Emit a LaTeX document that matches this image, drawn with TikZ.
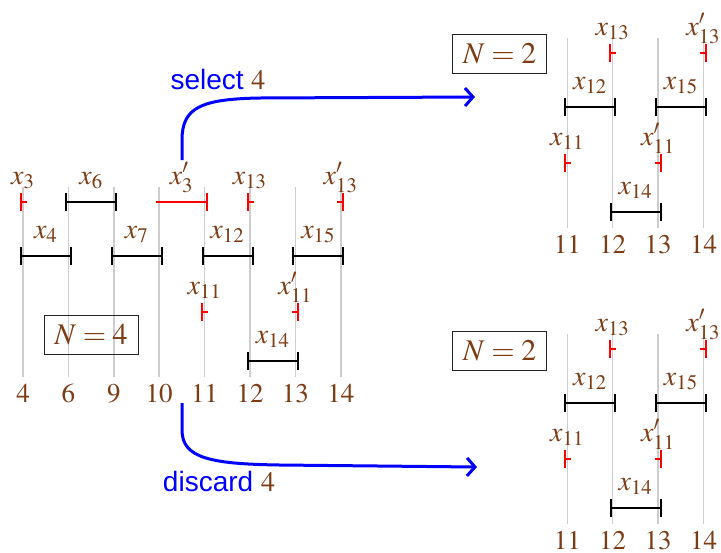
\documentclass[tikz,border=0pt]{standalone}
\usepackage{fontspec}
\usepackage{mathptmx}
\usetikzlibrary{arrows.meta}
\newfontfamily\sansf{Liberation Sans}
\definecolor{brn}{RGB}{125,60,20}
\definecolor{gridgray}{RGB}{205,205,205}
\tikzset{
  gridl/.style={draw=gridgray, line width=0.75pt},
  ival/.style={draw=black, line width=1pt, {Bar[width=9pt]}-{Bar[width=9pt]}},
  ltick/.style={draw=red, line width=1pt, {Bar[width=9pt]}-},
  rtick/.style={draw=red, line width=1pt, -{Bar[width=9pt]}},
  lab/.style={anchor=base, text=brn, font=\fontsize{14}{16}\selectfont, inner sep=0pt},
  num/.style={anchor=base, text=brn, font=\fontsize{13.5}{16}\selectfont, inner sep=0pt},
  nbox/.style={draw=black!85, line width=0.5pt, text=brn, minimum width=47pt, minimum height=19.5pt, inner sep=0pt, font=\fontsize{15}{17}\selectfont},
  flow/.style={draw=blue, line width=1.5pt, -{Straight Barb[length=4pt,width=9pt]}},
  act/.style={text=blue, font=\sansf\fontsize{14}{16}\selectfont, inner sep=0pt}
}
\newcommand\myival[5]{%
  \draw[ival] (#2-3,#4) -- (#3+3.5,#4);
  \node[lab] (#1) at ({(#2+#3)/2+0.25},#4-18) {$#5$};}
\newcommand\mylt[4]{%
  \draw[ltick] (#2-3.5,#3) -- (#2+3.5,#3);
  \node[lab] (#1) at (#2,#3-18) {$#4$};}
\newcommand\myrt[4]{%
  \draw[rtick] (#2-3.5,#3) -- (#2+3.5,#3);
  \node[lab] (#1) at (#2,#3-18) {$#4$};}
\newcommand\gridcol[3]{%
  \draw[gridl] (#2,187) -- (#2,377);
  \node[num] (#1-n#3) at (#2,402) {$#3$};}
\newcommand\rightpart[1]{%
  \gridcol{#1}{204.6}{11}\gridcol{#1}{250}{12}\gridcol{#1}{295.4}{13}\gridcol{#1}{340.8}{14}
  \mylt{#1-x13}{250}{202}{x_{13}}
  \myrt{#1-x13p}{340.8}{202}{x'_{13}}
  \myival{#1-x12}{204.6}{250}{256}{x_{12}}
  \myival{#1-x15}{295.4}{340.8}{256}{x_{15}}
  \mylt{#1-x11}{204.6}{312}{x_{11}}
  \myrt{#1-x11p}{295.4}{312}{x'_{11}}
  \myival{#1-x14}{250}{295.4}{361}{x_{14}}}
\begin{document}
\begin{tikzpicture}[x=0.5pt,y=-0.5pt]
\useasboundingbox (0,0) rectangle (721,552);
% left diagram
\gridcol{L}{23}{4}\gridcol{L}{68.4}{6}\gridcol{L}{113.8}{9}\gridcol{L}{159.2}{10}
\rightpart{L}
\mylt{L-x3}{23}{202}{x_{3}}
\myival{L-x6}{68.4}{113.8}{202}{x_{6}}
\draw[rtick] (159.2-3.5,202) -- (204.6+3,202);
\node[lab] (L-x3p) at (181.7,184) {$x'_{3}$};
\myival{L-x4}{23}{68.4}{256}{x_{4}}
\myival{L-x7}{113.8}{159.2}{256}{x_{7}}
\node[nbox] (L-N) at (91,335) {$N=4$};
% right diagrams
\begin{scope}[shift={(362.7,-149)}]
\rightpart{T}
\end{scope}
\node[nbox] (T-N) at (499.7,54) {$N=2$};
\begin{scope}[shift={(362.7,147)}]
\rightpart{B}
\end{scope}
\node[nbox] (B-N) at (499.7,350.5) {$N=2$};
% arrows
\coordinate (selA) at (182,160);
\coordinate (selB) at (475,97);
\draw[flow] (selA) -- (182,140) .. controls (182,108) and (200,99) .. (260,98) -- (selB);
\node[act] (sel) at (218,79) {select \textcolor{brn}{$4$}};
\coordinate (disA) at (182,403);
\coordinate (disB) at (477,467);
\draw[flow] (disA) -- (182,430) .. controls (182,458) and (210,464) .. (280,465) -- (disB);
\node[act] (dis) at (219,481) {discard \textcolor{brn}{$4$}};
\end{tikzpicture}
\end{document}
